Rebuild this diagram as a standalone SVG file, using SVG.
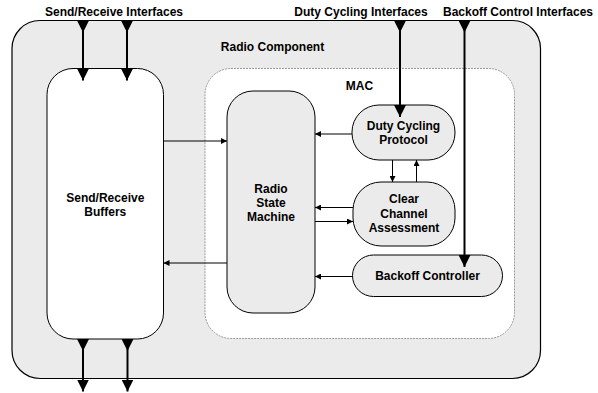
<svg xmlns="http://www.w3.org/2000/svg" width="598" height="393" viewBox="0 0 598 393">
  <style>
    text { font-family: "Liberation Sans", Arial, sans-serif; font-weight: bold; font-size: 12px; fill: #000; text-anchor: middle; }
    .outer { fill: #ebebeb; stroke: #000; stroke-width: 1.2; }
    .white { fill: #fff; stroke: #000; stroke-width: 1; }
    .mac { fill: #fff; stroke: #999; stroke-width: 1; stroke-dasharray: 2 1; }
    .node { fill: #ebebeb; stroke: #000; stroke-width: 1; }
    .thin { fill: none; stroke: #000; stroke-width: 1; marker-end: url(#small); }
    .thick { fill: none; stroke: #000; stroke-width: 2; marker-start: url(#bigStart); marker-end: url(#bigEnd); }
  </style>
  <defs>
    <marker id="small" markerUnits="userSpaceOnUse" markerWidth="7" markerHeight="6" refX="6" refY="3" orient="auto">
      <path d="M0,0 L6,3 L0,6 z" fill="#000"/>
    </marker>
    <marker id="bigStart" markerUnits="userSpaceOnUse" markerWidth="13" markerHeight="12" refX="0" refY="6" orient="auto">
      <path d="M0,0 L12,6 L0,12 z" fill="#000"/>
    </marker>
    <marker id="bigEnd" markerUnits="userSpaceOnUse" markerWidth="13" markerHeight="12" refX="12" refY="6" orient="auto">
      <path d="M0,0 L12,6 L0,12 z" fill="#000"/>
    </marker>
  </defs>

  <!-- interface labels -->
  <text x="114" y="16">Send/Receive Interfaces</text>
  <text x="361" y="16">Duty Cycling Interfaces</text>
  <text x="518" y="16">Backoff Control Interfaces</text>

  <g id="radio-component">
    <rect class="outer" x="12" y="20.5" width="528.5" height="358" rx="28" ry="28"/>
    <text x="272.5" y="50.5">Radio Component</text>
  </g>

  <g id="mac">
    <rect class="mac" x="205" y="68.5" width="309.5" height="270" rx="26" ry="26"/>
    <text x="359.5" y="90">MAC</text>
  </g>

  <g id="buffers">
    <rect class="white" x="47" y="68.5" width="116.5" height="270.5" rx="26" ry="26"/>
    <text x="105.3" y="201.5">Send/Receive</text>
    <text x="105.3" y="215.5">Buffers</text>
  </g>

  <g id="radio-state-machine">
    <rect class="node" x="227" y="91" width="88" height="222" rx="26" ry="26"/>
    <text x="271" y="192.5">Radio</text>
    <text x="271" y="206.5">State</text>
    <text x="271" y="221">Machine</text>
  </g>

  <g id="duty-cycling-protocol">
    <rect class="node" x="352" y="105" width="103" height="55" rx="27" ry="27"/>
    <text x="403.5" y="129.5">Duty Cycling</text>
    <text x="403.5" y="143.5">Protocol</text>
  </g>

  <g id="clear-channel-assessment">
    <rect class="node" x="353" y="182" width="102" height="64" rx="28" ry="28"/>
    <text x="404" y="202.5">Clear</text>
    <text x="404" y="217.5">Channel</text>
    <text x="404" y="232">Assessment</text>
  </g>

  <g id="backoff-controller">
    <rect class="node" x="352.5" y="255" width="150" height="41.5" rx="21" ry="21"/>
    <text x="427.5" y="280">Backoff Controller</text>
  </g>

  <g id="connectors">
    <!-- internal data paths -->
    <path class="thin" d="M163.5,141 H227"/>
    <path class="thin" d="M227,263 H163.5"/>
    <path class="thin" d="M352,134 H315"/>
    <path class="thin" d="M353,207.5 H315"/>
    <path class="thin" d="M315,221.5 H353"/>
    <path class="thin" d="M392.5,160 V182"/>
    <path class="thin" d="M416.5,182 V160"/>
    <path class="thin" d="M352.5,276.5 H315"/>
    <!-- external interfaces -->
    <path class="thick" d="M83,20.5 V80.5"/>
    <path class="thick" d="M127,20.5 V80.5"/>
    <path class="thick" d="M83,339 V391.5"/>
    <path class="thick" d="M127.5,339 V391.5"/>
    <path class="thick" d="M400,20.5 V117"/>
    <path class="thick" d="M464.5,20.5 V267"/>
  </g>
</svg>
